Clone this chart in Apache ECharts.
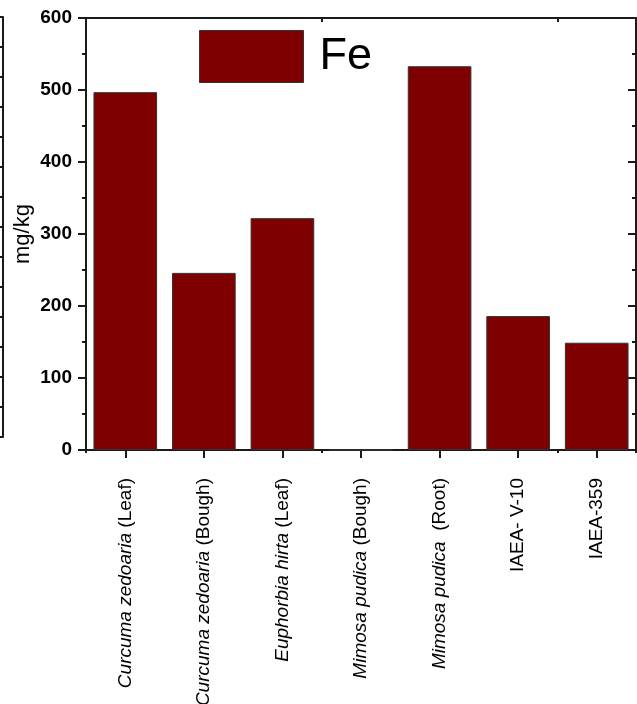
<!DOCTYPE html>
<html>
<head>
<meta charset="utf-8">
<script src="https://cdn.jsdelivr.net/npm/echarts@6/dist/echarts.min.js"></script>
<style>html,body{margin:0;padding:0;background:#fff;}#c{width:637px;height:704px;}</style>
</head>
<body>
<div id="c"></div>
<script>
var categories = ['Curcuma zedoaria (Leaf)', 'Curcuma zedoaria (Bough)', 'Euphorbia hirta (Leaf)', 'Mimosa pudica (Bough)', 'Mimosa pudica  (Root)', 'IAEA- V-10', 'IAEA-359'];
var italicParts = ['Curcuma zedoaria', 'Curcuma zedoaria', 'Euphorbia hirta', 'Mimosa pudica', 'Mimosa pudica', '', ''];
var normalParts = [' (Leaf)', ' (Bough)', ' (Leaf)', ' (Bough)', '  (Root)', 'IAEA- V-10', 'IAEA-359'];
var feValues = [497, 246, 322, 0, 533, 186, 149];
var yTicks = [0, 100, 200, 300, 400, 500, 600];
var seriesName = 'Fe';
var yName = 'mg/kg';

var AX = '#1a1a1a';
var FONT = 'Liberation Sans, Arial, sans-serif';
var chart = echarts.init(document.getElementById('c'), null, {renderer: 'canvas'});

function labelFmt(v, i) {
  var it = italicParts[i], nm = normalParts[i];
  return (it ? '{i|' + it + '}' : '') + (nm ? '{n|' + nm + '}' : '');
}
var baseX = {
  type: 'category', data: categories, gridIndex: 0,
  axisLine: {show: true, lineStyle: {color: AX, width: 2}},
  splitLine: {show: false}
};
chart.setOption({
  animation: false,
  backgroundColor: '#fff',
  legend: {
    left: 194, top: 25, itemWidth: 104, itemHeight: 52,
    data: [{name: seriesName, icon: 'rect'}],
    textStyle: {fontSize: 45, color: '#000', fontFamily: FONT, padding: [4, 0, 0, 11]},
    itemStyle: {borderColor: '#333', borderWidth: 1}
  },
  grid: [
    {left: 86, top: 18, right: 1, bottom: 254, outerBoundsMode: 'none', containLabel: false},
    {left: 3, top: 17, width: 10, height: 420, outerBoundsMode: 'none'}
  ],
  xAxis: [
    Object.assign({}, baseX, {
      position: 'bottom',
      axisTick: {show: true, alignWithLabel: true, length: 8, lineStyle: {color: AX, width: 2}},
      axisLabel: {
        rotate: 90, margin: 28, interval: 0, formatter: labelFmt,
        rich: {
          i: {fontStyle: 'italic', fontSize: 19, fontFamily: FONT, color: '#000'},
          n: {fontSize: 19, fontFamily: FONT, color: '#000'}
        }
      }
    }),
    Object.assign({}, baseX, {
      position: 'top',
      axisTick: {show: true, inside: true, alignWithLabel: true, length: 7, lineStyle: {color: AX, width: 2}},
      axisLabel: {show: false}
    }),
    Object.assign({}, baseX, {
      position: 'bottom',
      axisTick: {show: true, alignWithLabel: false, length: 3, lineStyle: {color: AX, width: 2}},
      axisLabel: {show: false}
    }),
    Object.assign({}, baseX, {
      position: 'top',
      axisTick: {show: true, inside: true, alignWithLabel: false, length: 4, lineStyle: {color: AX, width: 2}},
      axisLabel: {show: false}
    }),
    {type: 'value', gridIndex: 1, show: false, min: 0, max: 1}
  ],
  yAxis: [
    {
      type: 'value', gridIndex: 0, position: 'left', min: yTicks[0], max: yTicks[yTicks.length - 1], interval: 100,
      name: yName, nameLocation: 'middle', nameGap: 52, nameRotate: 90, nameMoveOverlap: false,
      nameTextStyle: {fontSize: 22, fontFamily: FONT, color: '#000'},
      axisLine: {show: true, lineStyle: {color: AX, width: 2}},
      axisTick: {show: true, length: 8, lineStyle: {color: AX, width: 2}},
      minorTick: {show: true, splitNumber: 2, length: 4, lineStyle: {color: AX, width: 2}},
      splitLine: {show: false},
      axisLabel: {margin: 14, fontSize: 19, fontWeight: 'bold', fontFamily: FONT, color: '#000'}
    },
    {
      type: 'value', gridIndex: 0, position: 'right', min: 0, max: 600, interval: 100,
      axisLine: {show: true, lineStyle: {color: AX, width: 2}},
      axisTick: {show: true, inside: true, length: 8, lineStyle: {color: AX, width: 2}},
      minorTick: {show: true, splitNumber: 2, length: 4, lineStyle: {color: AX, width: 2}},
      splitLine: {show: false},
      axisLabel: {show: false}
    },
    {
      type: 'value', gridIndex: 1, position: 'left', min: 0, max: 14, interval: 1,
      axisLine: {show: true, lineStyle: {color: AX, width: 2}},
      axisTick: {show: true, length: 3, lineStyle: {color: AX, width: 2}},
      splitLine: {show: false},
      axisLabel: {show: false}
    }
  ],
  series: [{
    name: seriesName, type: 'bar', xAxisIndex: 0, yAxisIndex: 0,
    data: feValues, barWidth: '81%',
    itemStyle: {color: '#7f0000', borderColor: '#333', borderWidth: 1}
  }]
});
</script>
</body>
</html>
